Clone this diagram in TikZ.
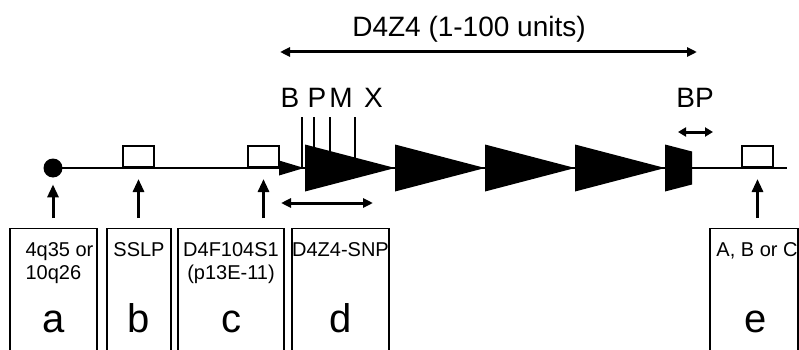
\documentclass[tikz,border=0pt]{standalone}
\usepackage{fontspec}
\setmainfont{Liberation Sans}
\usetikzlibrary{positioning, arrows.meta}

\begin{document}
\begin{tikzpicture}[x=0.5pt, y=0.5pt, every node/.style={inner sep=0pt}]
        % Define styles for sites, panels, labels and arrows
        \tikzstyle{site} = [rectangle, draw, line width=1.1pt, fill=white, 
                            minimum width=15.5pt, minimum height=10.5pt, anchor=south]
        \tikzstyle{panel} = [rectangle, draw, line width=0.65pt, anchor=north, minimum height=90pt]
        \tikzstyle{smalltext} = [font=\fontsize{10}{11.5}\selectfont, align=center]
        \tikzstyle{letter} = [font=\fontsize{20}{24}\selectfont, anchor=base]
        \tikzstyle{biglabel} = [font=\fontsize{14}{16}\selectfont, anchor=base]
        \tikzstyle{arrow} = [line width=1.5pt, -{Triangle[length=6.5pt,width=5.5pt]}, shorten <=5pt]
        \tikzstyle{span} = [line width=1.5pt, {Triangle[length=5pt,width=4.5pt]}-{Triangle[length=5pt,width=4.5pt]}]
        \tikzstyle{smallspan} = [line width=1.5pt, {Triangle[length=4pt,width=4.5pt]}-{Triangle[length=4pt,width=4.5pt]}]

        \clip (0,0) rectangle (799,349);

        % Chromosome line with sites
        \draw [line width=1.1pt] (53,181) -- (787,181);
        \node (tel) [circle, fill=black, minimum size=9.5pt] at (53,181) {};
        \node (sslp) [site] at (138.5,181) {};
        \node (d4f) [site] at (263.5,181) {};
        \node (abc) [site] at (757.5,181) {};

        % Restriction sites and repeat units
        \foreach \x in {302,314,330,355} \draw [line width=1pt] (\x,181) -- (\x,232);
        \fill (279,188.5) -- (304,181) -- (279,173.5) -- cycle;
        \foreach \x in {305,395,485,575} \fill (\x,204.5) -- (\x+90,181) -- (\x,157.5) -- cycle;
        \fill (665,204.5) -- (692,197.5) -- (692,164.5) -- (665,157.5) -- cycle;

        % Labels above
        \node (labb) [biglabel] at (290,242) {B};
        \node (labp) [biglabel] at (317,242) {P};
        \node (labm) [biglabel] at (341,242) {M};
        \node (labx) [biglabel] at (373.5,242) {X};
        \node (labbp) [biglabel] at (695,242) {BP};
        \node (d4z4) [biglabel] at (469,313) {D4Z4 (1-100 units)};

        % Spans
        \coordinate (d4z4l) at (280,297);
        \coordinate (d4z4r) at (697,297);
        \coordinate (snpl) at (281,146);
        \coordinate (snpr) at (373,146);
        \coordinate (bpl) at (678,217);
        \coordinate (bpr) at (713,217);
        \draw [span] (d4z4l) -- (d4z4r);
        \draw [span] (snpl) -- (snpr);
        \draw [smallspan] (bpl) -- (bpr);

        % Panels below
        \node (boxa) [panel, minimum width=43.5pt] at (53.5,121) {};
        \node (boxb) [panel, minimum width=32pt] at (139,121) {};
        \node (boxc) [panel, minimum width=53pt] at (231,121) {};
        \node (boxd) [panel, minimum width=48.5pt] at (340.5,121) {};
        \node (boxe) [panel, minimum width=44pt] at (754,121) {};

        \node (texta) [smalltext, align=left, below=7pt of boxa.north, xshift=3pt] {4q35 or\\10q26};
        \node (textb) [smalltext, below=7pt of boxb.north] {SSLP};
        \node (textc) [smalltext, below=7pt of boxc.north] {D4F104S1\\(p13E-11)};
        \node (textd) [smalltext, below=7pt of boxd.north] {D4Z4-SNP};
        \node (texte) [smalltext, below=7pt of boxe.north, xshift=1.5pt] {A, B or C};

        \node (leta) [letter] at (53.5,17) {a};
        \node (letb) [letter] at (139,17) {b};
        \node (letc) [letter] at (231,17) {c};
        \node (letd) [letter] at (340.5,17) {d};
        \node (lete) [letter] at (756,17) {e};

        % Arrows
        \draw [arrow, shorten >=3.25pt] (tel.south |- boxa.north) -- (tel.south);
        \draw [arrow, shorten >=5.5pt] (sslp.south |- boxb.north) -- (sslp.south);
        \draw [arrow, shorten >=5.5pt] (d4f.south |- boxc.north) -- (d4f.south);
        \draw [arrow, shorten >=5.5pt] (abc.south |- boxe.north) -- (abc.south);
    \end{tikzpicture}
\end{document}
